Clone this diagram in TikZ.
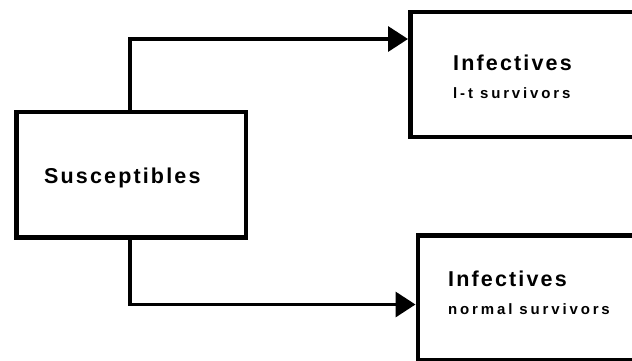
\documentclass[tikz,border=0pt]{standalone}
\usepackage{fontspec}
\setmainfont{Liberation Sans}
\newfontfamily\titlefont{Liberation Sans}[LetterSpace=10]
\newfontfamily\subfont{Liberation Sans}[LetterSpace=19]
\usetikzlibrary{arrows.meta}
\begin{document}
\begin{tikzpicture}[x=1pt,y=-1pt,
  box/.style={draw=black,line width=4.5pt,rectangle,inner sep=0pt,anchor=north west},
  flow/.style={draw=black,line width=3.5pt,-{Triangle[length=20pt,width=25pt]}},
  title/.style={anchor=base west,inner sep=0pt,font=\titlefont\bfseries\fontsize{21.5}{24}\selectfont},
  sub/.style={anchor=base west,inner sep=0pt,font=\subfont\bfseries\fontsize{15}{17}\selectfont}]
\useasboundingbox (0,0) rectangle (632,360);
\clip (0,0) rectangle (632,360);
% boxes
\node[box,minimum width=229.5pt,minimum height=125.5pt] (sus) at (14,109.5) {};
\node[box,minimum width=230pt,minimum height=125pt] (inf1) at (408,9.5) {};
\node[box,minimum width=230pt,minimum height=125pt] (inf2) at (415.5,233) {};
% texts
\node[title] (tsus) at (44,183) {Susceptibles};
\node[title] (tinf1) at (453,70) {Infectives};
\node[sub] (sinf1) at (453,98) {l-t survivors};
\node[title] (tinf2) at (448,286) {Infectives};
\node[sub] (sinf2) at (448,314) {normal survivors};
% connectors
\coordinate (c1) at (130,39);
\coordinate (c2) at (130,304.5);
\draw[flow] (c1 |- sus.north) -- (c1) -- (c1 -| inf1.west);
\draw[flow] (c2 |- sus.south) -- (c2) -- (c2 -| inf2.west);
\end{tikzpicture}
\end{document}
